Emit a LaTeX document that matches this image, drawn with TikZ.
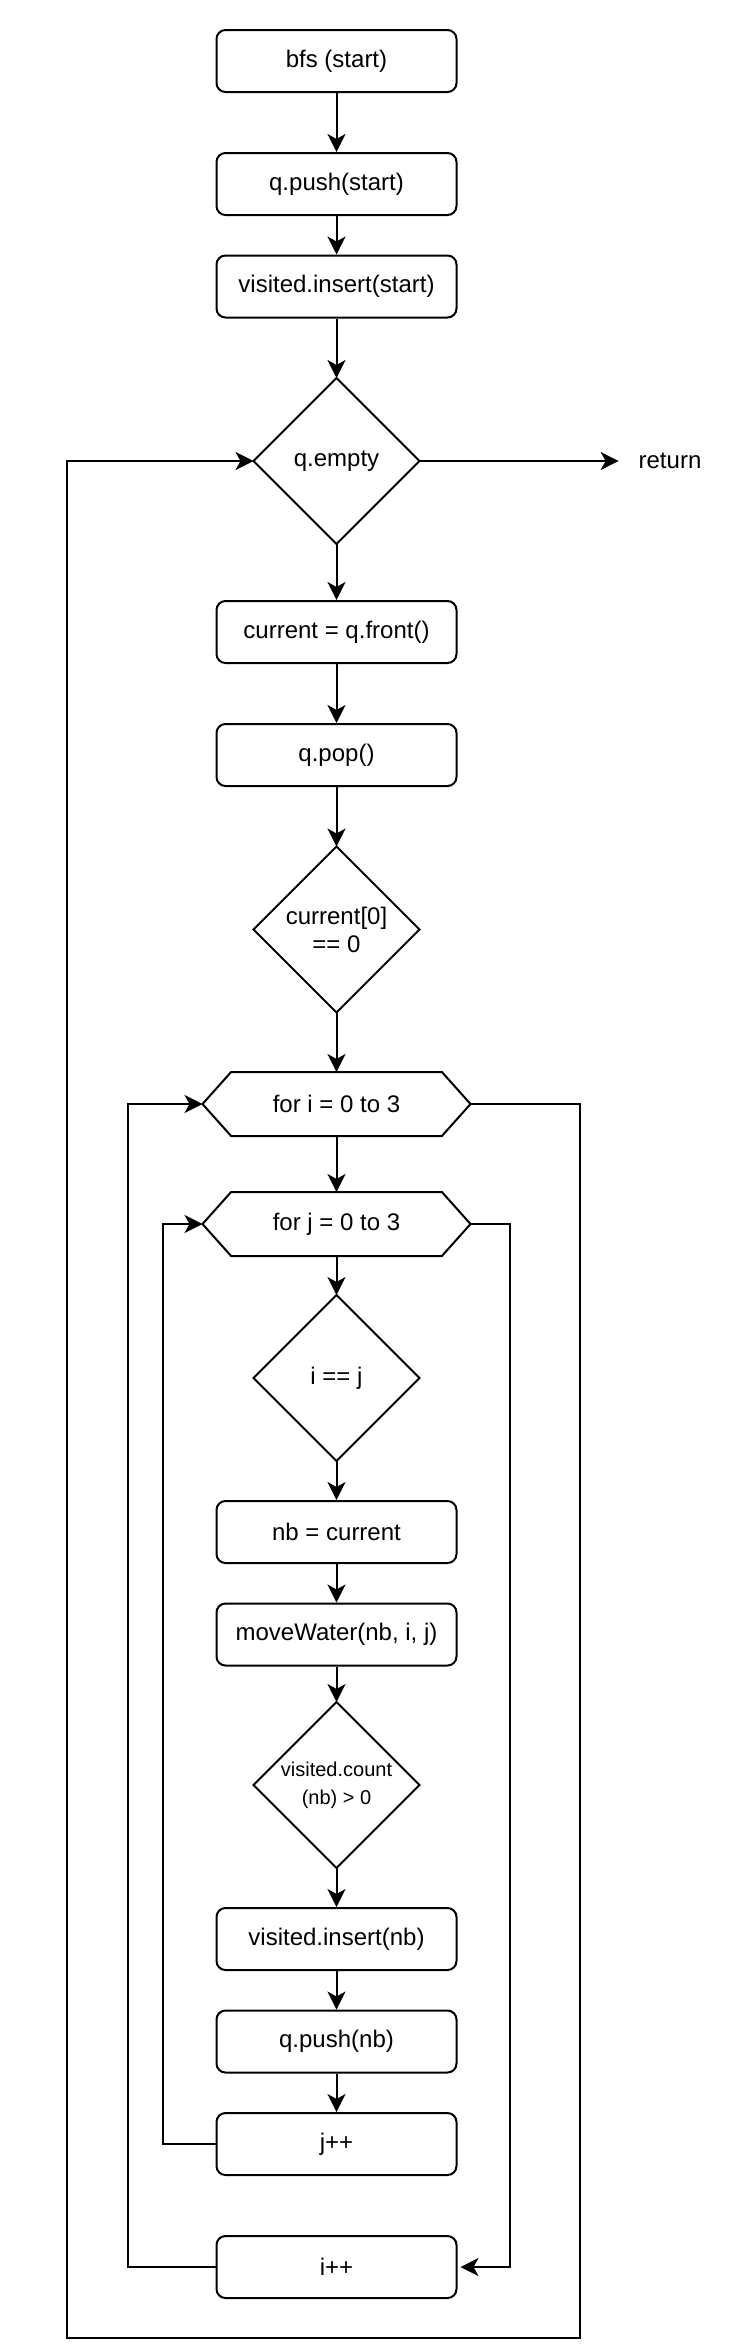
\documentclass[tikz,border=0pt]{standalone}
\usepackage{fontspec}
\setmainfont{Liberation Sans}
\usetikzlibrary{arrows.meta}
\begin{document}
\begin{tikzpicture}[x=1pt,y=-1pt,line width=2pt,
  txt/.style={font=\fontsize{24}{28}\selectfont},
  box/.style={txt,draw,rounded corners=9pt,minimum width=240pt,minimum height=62pt,inner sep=0pt},
  dia/.style={txt,minimum width=164pt,minimum height=164pt,inner sep=0pt,align=center,
    append after command={\pgfextra{\draw[line join=miter] (\tikzlastnode.north)--(\tikzlastnode.east)--(\tikzlastnode.south)--(\tikzlastnode.west)--cycle;}}},
  hex/.style={txt,minimum width=266pt,minimum height=62pt,inner sep=0pt,
    append after command={\pgfextra{\draw[line join=miter] (\tikzlastnode.west)--([xshift=28.6pt]\tikzlastnode.north west)--([xshift=-28.6pt]\tikzlastnode.north east)--(\tikzlastnode.east)--([xshift=-28.6pt]\tikzlastnode.south east)--([xshift=28.6pt]\tikzlastnode.south west)--cycle;}}},
  arr/.style={-{Stealth[length=18pt,width=18pt,inset=5pt]}},
  ln/.style={line join=miter}]
\fill[white] (0,0) rectangle (738,2350);
\useasboundingbox (0,0) rectangle (738,2350);

\node[box] (bfs) at (336.5,61) {bfs (start)};
\node[box] (qpush) at (336.5,184) {q.push(start)};
\node[box] (vins) at (336.5,286.5) {visited.insert(start)};
\node[dia] (qempty) at (336.5,461) {q.empty};
\node[txt,inner xsep=19pt,inner ysep=0pt] (ret) at (670,461) {return};
\node[box] (cur) at (336.5,632) {current = q.front()};
\node[box] (qpop) at (336.5,755) {q.pop()};
\node[dia] (cz) at (336.5,929.5) {current[0]\\== 0};
\node[hex] (fori) at (336.5,1104) {for i = 0 to 3};
\node[hex] (forj) at (336.5,1224) {for j = 0 to 3};
\node[dia] (iej) at (336.5,1378) {i == j};
\node[box] (nb) at (336.5,1532) {nb = current};
\node[box] (mw) at (336.5,1634.5) {moveWater(nb, i, j)};
\node[dia,font=\fontsize{20}{28}\selectfont] (vc) at (336.5,1785) {visited.count\\(nb) > 0};
\node[box] (vinsnb) at (336.5,1939) {visited.insert(nb)};
\node[box] (qpnb) at (336.5,2041.5) {q.push(nb)};
\node[box] (jpp) at (336.5,2144) {j++};
\node[box] (ipp) at (336.5,2267) {i++};

\coordinate (jx) at (163,0);
\coordinate (jr) at (509.5,0);
\coordinate (ix) at (127.7,0);
\coordinate (obr) at (580,2338);
\coordinate (obl) at (67,2338);

\draw[arr] (bfs) -- (qpush);
\draw[arr] (qpush) -- (vins);
\draw[arr] (vins) -- (qempty.north);
\draw[arr] (qempty.east) -- (ret.west);
\draw[arr] (qempty.south) -- (cur);
\draw[arr] (cur) -- (qpop);
\draw[arr] (qpop) -- (cz.north);
\draw[arr] (cz.south) -- (fori.north);
\draw[arr] (fori.south) -- (forj.north);
\draw[arr] (forj.south) -- (iej.north);
\draw[arr] (iej.south) -- (nb);
\draw[arr] (nb) -- (mw);
\draw[arr] (mw) -- (vc.north);
\draw[arr] (vc.south) -- (vinsnb);
\draw[arr] (vinsnb) -- (qpnb);
\draw[arr] (qpnb) -- (jpp);
\draw[arr,ln] (jpp.west) -- (jpp.west -| jx) |- (forj.west);
\draw[arr,ln] (forj.east) -- (forj.east -| jr) |- ([xshift=3pt]ipp.east);
\draw[arr,ln] (ipp.west) -- (ipp.west -| ix) |- (fori.west);
\draw[arr,ln] (fori.east) -| (obr) -- (obl) |- (qempty.west);
\end{tikzpicture}
\end{document}
